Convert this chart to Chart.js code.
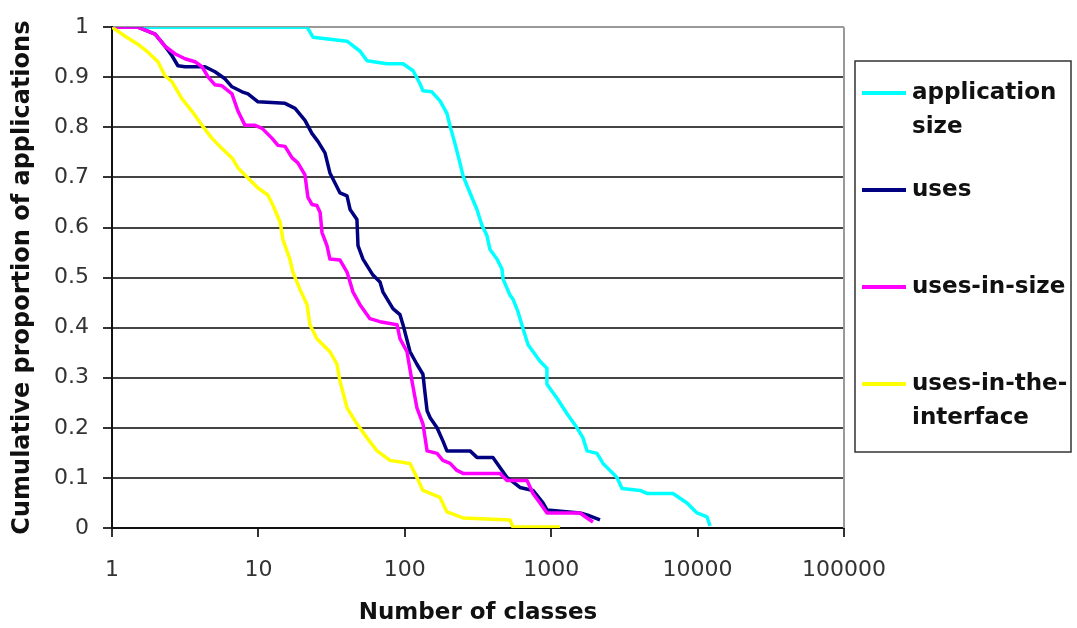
<!DOCTYPE html>
<html>
<head>
<meta charset="utf-8">
<script src="https://cdn.jsdelivr.net/npm/chart.js@4.4.1/dist/chart.umd.min.js"></script>
<style>
  html, body { margin: 0; padding: 0; background: #fff; }
  #wrap { width: 1077px; height: 628px; }
</style>
</head>
<body>
<div id="wrap"><canvas id="cdfChart" width="1077" height="628"></canvas></div>
<script>
// values: x = number of classes, y = cumulative proportion of applications
const appSizeX = [1, 21.5, 23.6, 40.3, 49.5, 55.2, 75.5, 97.2, 114, 127, 133, 153, 174, 194, 204, 220, 238, 250, 279, 311, 337, 364, 382, 426, 461, 469, 523, 548, 593, 642, 695, 838, 935, 935, 1096, 1283, 1500, 1648, 1757, 2055, 2259, 2522, 2814, 3045, 4043, 4510, 6787, 8466, 9910, 11600, 12160];
const appSizeY = [1, 1, 0.980, 0.972, 0.952, 0.933, 0.927, 0.927, 0.913, 0.887, 0.873, 0.871, 0.853, 0.828, 0.802, 0.768, 0.729, 0.703, 0.669, 0.636, 0.604, 0.584, 0.556, 0.537, 0.517, 0.497, 0.465, 0.457, 0.432, 0.398, 0.366, 0.333, 0.319, 0.287, 0.259, 0.228, 0.200, 0.180, 0.154, 0.149, 0.129, 0.115, 0.101, 0.079, 0.075, 0.069, 0.069, 0.050, 0.030, 0.022, 0.004];

const usesX = [1, 1.5, 1.97, 2.30, 2.57, 2.82, 3.15, 3.69, 4.32, 5.05, 5.91, 6.60, 7.73, 8.49, 9.94, 15.2, 17.8, 20.8, 23.2, 25.5, 28.5, 30.8, 36.1, 40.3, 42.3, 47.1, 47.9, 51.8, 60.6, 67.7, 71.0, 83.0, 92.7, 97.2, 108.6, 121, 133, 137, 142, 149, 166, 182, 194, 279, 311, 400, 499, 612, 751, 879, 936, 1574, 1757, 2154];
const usesY = [1, 1, 0.986, 0.962, 0.943, 0.923, 0.921, 0.921, 0.921, 0.911, 0.897, 0.881, 0.871, 0.867, 0.851, 0.848, 0.838, 0.814, 0.788, 0.772, 0.749, 0.709, 0.669, 0.663, 0.636, 0.616, 0.564, 0.537, 0.505, 0.491, 0.471, 0.438, 0.426, 0.406, 0.352, 0.327, 0.307, 0.273, 0.234, 0.220, 0.200, 0.174, 0.154, 0.154, 0.141, 0.141, 0.101, 0.081, 0.075, 0.050, 0.036, 0.030, 0.026, 0.016];

const usesInSizeX = [1, 1.5, 1.97, 2.30, 2.69, 3.15, 3.69, 4.12, 4.53, 5.05, 5.64, 6.60, 7.26, 8.10, 9.48, 10.6, 12.4, 13.6, 15.2, 17.0, 18.6, 20.8, 21.8, 23.2, 25.1, 26.4, 27.2, 29.4, 30.8, 36.1, 40.3, 44.3, 49.4, 57.8, 67.7, 88.5, 92.7, 103.5, 112, 121, 133, 142, 166, 182, 204, 227, 250, 447, 499, 684, 751, 838, 936, 1574, 1757, 1929];
const usesInSizeY = [1, 1, 0.986, 0.962, 0.947, 0.937, 0.931, 0.921, 0.901, 0.885, 0.883, 0.867, 0.832, 0.804, 0.804, 0.798, 0.778, 0.764, 0.762, 0.739, 0.729, 0.705, 0.660, 0.646, 0.644, 0.630, 0.590, 0.564, 0.537, 0.535, 0.511, 0.471, 0.446, 0.418, 0.412, 0.406, 0.378, 0.352, 0.293, 0.240, 0.208, 0.154, 0.149, 0.135, 0.129, 0.115, 0.109, 0.109, 0.095, 0.095, 0.069, 0.050, 0.030, 0.030, 0.020, 0.012];

const usesInInterfaceX = [1, 1.23, 1.5, 1.76, 2.06, 2.30, 2.57, 3.01, 3.52, 4.12, 4.82, 5.64, 6.60, 7.26, 8.49, 9.94, 11.6, 12.6, 14.1, 14.7, 16.4, 17.2, 19.2, 21.5, 22.5, 25.1, 29.4, 30.8, 34.4, 36.1, 40.3, 47.1, 55.2, 64.6, 79.2, 108.6, 121, 133, 174, 194, 250, 523, 548, 1149];
const usesInInterfaceY = [1, 0.982, 0.966, 0.950, 0.931, 0.903, 0.891, 0.857, 0.832, 0.804, 0.778, 0.758, 0.739, 0.719, 0.699, 0.679, 0.665, 0.644, 0.610, 0.576, 0.537, 0.511, 0.477, 0.446, 0.406, 0.378, 0.358, 0.352, 0.327, 0.293, 0.240, 0.208, 0.180, 0.154, 0.135, 0.129, 0.101, 0.075, 0.061, 0.032, 0.020, 0.016, 0.002, 0.002];

const seriesNames = ['application size', 'uses', 'uses-in-size', 'uses-in-the-interface'];
const legendLines = [['application', 'size'], ['uses'], ['uses-in-size'], ['uses-in-the-', 'interface']];
const seriesColors = ['#00ffff', '#000080', '#ff00ff', '#ffff00'];
const xTickValues = [1, 10, 100, 1000, 10000, 100000];

const FONT = 'DejaVu Sans';

function toPoints(xs, ys) {
    return xs.map((x, i) => ({ x: x, y: ys[i] }));
}

// grey frame line on the right side of the plot area
const plotFrame = {
    id: 'plotFrame',
    beforeDatasetsDraw(chart) {
        const ctx = chart.ctx;
        const a = chart.chartArea;
        ctx.save();
        ctx.strokeStyle = '#999';
        ctx.lineWidth = 2;
        ctx.beginPath();
        ctx.moveTo(a.right, a.top);
        ctx.lineTo(a.right, a.bottom);
        ctx.stroke();
        ctx.restore();
    }
};

// legend box on the right, drawn by hand because of the two-line labels
const boxLegend = {
    id: 'boxLegend',
    afterDraw(chart) {
        const ctx = chart.ctx;
        const area = chart.chartArea;
        const left = area.right + 11;
        const top = 61;
        ctx.save();
        ctx.strokeStyle = '#333';
        ctx.lineWidth = 1.5;
        ctx.strokeRect(left, top, 216, 391);

        ctx.font = 'bold 23px "' + FONT + '"';
        ctx.textBaseline = 'middle';
        ctx.fillStyle = '#111';
        chart.data.datasets.forEach((ds, i) => {
            const y = top + 32 + i * 97;
            ctx.strokeStyle = ds.borderColor;
            ctx.lineWidth = 4;
            ctx.beginPath();
            ctx.moveTo(left + 7, y);
            ctx.lineTo(left + 51, y);
            ctx.stroke();
            legendLines[i].forEach((txt, j) => {
                ctx.fillText(txt, left + 57, y + j * 34);
            });
        });
        ctx.restore();
    }
};

const allX = [appSizeX, usesX, usesInSizeX, usesInInterfaceX];
const allY = [appSizeY, usesY, usesInSizeY, usesInInterfaceY];

new Chart(document.getElementById('cdfChart'), {
    type: 'line',
    data: {
        datasets: seriesNames.map((name, i) => ({
            label: name,
            data: toPoints(allX[i], allY[i]),
            borderColor: seriesColors[i],
            borderWidth: 3.5,
            borderJoinStyle: 'round',
            pointRadius: 0,
            order: seriesNames.length - i   // later series drawn on top, like the original
        }))
    },
    options: {
        responsive: false,
        devicePixelRatio: 1,
        animation: false,
        layout: { padding: { top: 23, right: 233 } },
        plugins: {
            legend: { display: false },
            tooltip: { enabled: false }
        },
        scales: {
            x: {
                type: 'logarithmic',
                min: 1,
                max: 100000,
                afterBuildTicks: (s) => { s.ticks = xTickValues.map(v => ({ value: v })); },
                afterFit: (s) => { s.height = 100; },
                grid: { drawOnChartArea: false, tickLength: 9, tickColor: '#333', lineWidth: 2 },
                border: { color: '#111', width: 2 },
                ticks: {
                    color: '#333',
                    font: { family: FONT, size: 22 },
                    padding: 20,
                    maxRotation: 0,
                    callback: (v) => String(v)
                },
                title: {
                    display: true,
                    text: 'Number of classes',
                    color: '#111',
                    font: { family: FONT, size: 23, weight: 'bold' },
                    padding: { top: 0, bottom: 1 }
                }
            },
            y: {
                min: 0,
                max: 1,
                afterFit: (s) => { s.width = 112; },
                grid: {
                    color: (c) => (c.tick && c.tick.value === 1 ? '#999' : '#444'),
                    lineWidth: 2,
                    tickLength: 9,
                    tickColor: '#333'
                },
                border: { color: '#111', width: 2 },
                ticks: {
                    stepSize: 0.1,
                    color: '#333',
                    font: { family: FONT, size: 22 },
                    padding: 14,
                    callback: (v) => String(+v.toFixed(1))
                },
                title: {
                    display: true,
                    text: 'Cumulative proportion of applications',
                    color: '#111',
                    font: { family: FONT, size: 24, weight: 'bold' },
                    padding: { top: 8, bottom: 0 }
                }
            }
        }
    },
    plugins: [plotFrame, boxLegend]
});
</script>
</body>
</html>
